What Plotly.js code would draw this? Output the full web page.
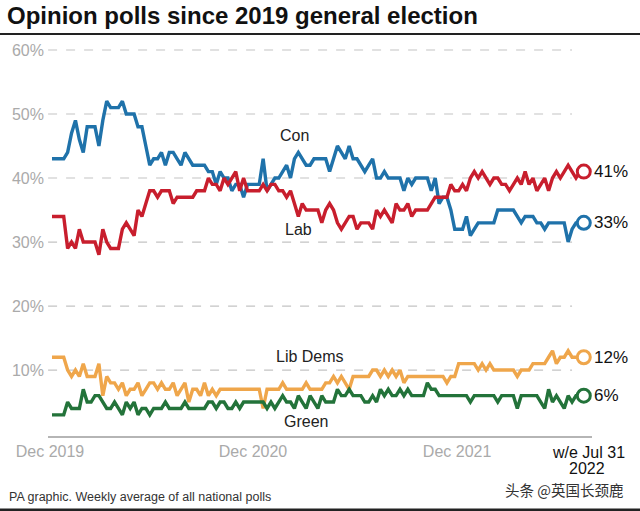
<!DOCTYPE html>
<html><head><meta charset="utf-8">
<script src="https://cdn.plot.ly/plotly-3.0.1.min.js"></script>
<style>html,body{margin:0;padding:0;background:#fff;}#chart{width:640px;height:511px;}</style>
</head><body><div id="chart"></div>
<script>
// Weekly poll averages, week 0 = mid Dec 2019, week 136 = w/e Jul 31 2022
const con = [43,43,43,43,44,47,49,46,44,48,48,48,45,49,52,51,51,51,52,50,50,50,48,48,45,42,43,43,44,42,44,44,43,42,44,43,42,42,42,42,41,41,39,41,40,40,38,39,39,37,39,39,39,39,43,38,39,40,40,41,42,40,43,44,43,42,42,43,43,43,43,41,43,45,44,43,45,43,43,42,41,42,43,40,40,41,40,40,40,40,38,40,39,40,40,40,40,38,40,36,37,37,35,32,32,32,34,31,32,33,33,33,33,33,35,35,35,35,35,34,33,34,34,34,33,33,32,33,33,33,33,33,30,32,33,33,33];
const lab = [34,34,34,34,29,30,29,32,30,30,30,30,28,32,30,29,29,29,32,33,32,31,35,34,36,38,38,37,38,38,38,36,37,37,37,37,37,38,38,38,40,39,39,38,40,39,40,41,38,40,38,38,38,38,39,38,39,39,38,38,37,38,36,34,36,35,35,35,35,33,35,36,35,33,32,33,34,34,32,33,33,33,32,35,34,35,34,33,36,35,35,36,34,35,35,35,35,36,37,37,37,37,39,38,38,39,38,40,41,40,41,40,39,40,40,39,39,38,39,40,39,41,39,40,38,39,40,38,40,41,40,41,42,41,40,41,41];
const libDems = [12,12,12,12,10,9,10,9,11,9,9,9,11,6,9,8,8,7,8,6,7,7,8,6,7,8,8,7,8,7,7,8,6,7,8,5,7,7,6,8,6,7,6,7,7,7,7,7,7,7,7,7,7,7,4,7,7,7,7,8,7,7,7,7,7,8,7,7,7,7,8,8,9,8,9,8,7,9,9,9,9,9,10,10,9,10,9,10,9,10,8,9,9,9,9,9,9,9,9,9,9,8,9,9,11,11,11,11,11,10,11,10,11,10,10,10,10,10,10,9,10,10,10,11,11,11,11,12,13,11,12,12,13,12,12,12,12];
const green = [3,3,3,3,5,4,4,4,7,5,5,6,6,5,4,4,5,4,3,5,4,5,3,4,4,3,4,4,4,5,4,4,4,4,5,4,4,4,4,4,5,5,4,5,5,4,4,5,4,5,5,5,5,5,5,4,5,4,5,6,5,5,4,6,5,4,6,5,4,6,5,5,5,7,6,6,7,6,6,6,5,5,6,5,7,6,7,6,6,7,6,7,6,6,6,6,8,7,7,6,6,6,6,6,6,6,6,5,6,6,6,6,6,6,5,6,6,6,6,4,6,6,6,6,6,5,4,7,5,6,5,4,6,5,6,6,6];
const seriesNames = ['Con','Lab','Lib Dems','Green'];
const seriesColors = ['#1f72aa','#c81e2d','#efa64b','#23733a'];
const endLabels = ['33%','41%','12%','6%'];
const yTicks = [10,20,30,40,50,60];
const yTickText = ['10%','20%','30%','40%','50%','60%'];
const xTickVals = [-0.5,51.4,103.6];
const xTickText = ['Dec 2019','Dec 2020','Dec 2021'];
const lastTickLines = ['w/e Jul 31','2022'];
const weeks = con.map((_, i) => i);

const FONT = 'Liberation Sans, Arial, sans-serif';
const allSeries = [con, lab, libDems, green];
const traces = [];
allSeries.forEach((vals, k) => {
  traces.push({x: weeks, y: vals, type: 'scatter', mode: 'lines', name: seriesNames[k],
    line: {color: seriesColors[k], width: 3.4, shape: 'linear'}, hoverinfo: 'skip'});
});
allSeries.forEach((vals, k) => {
  const n = vals.length - 1;
  traces.push({x: [weeks[n]], y: [vals[n]], type: 'scatter', mode: 'markers',
    marker: {size: 13, color: '#fff', line: {color: seriesColors[k], width: 3}}, hoverinfo: 'skip'});
});

const last = weeks.length - 1;
// paper coords: plot area spans x 48..592 px, y 40..436 px
const px = p => (p - 48) / 544;
const py = p => (436 - p) / 396;
const shapes = yTicks.map(v => ({type: 'line', xref: 'x', yref: 'y', x0: -1, x1: 133, y0: v, y1: v,
  line: {color: '#c4c4c4', width: 1.2, dash: 'dash'}, layer: 'below'}));
shapes.push({type: 'line', xref: 'paper', yref: 'paper', x0: px(0), x1: px(640), y0: py(34), y1: py(34),
  line: {color: '#222', width: 2}});
shapes.push({type: 'rect', xref: 'paper', yref: 'paper', x0: px(0), x1: px(640), y0: py(508.5), y1: py(511),
  fillcolor: '#222', line: {width: 0}});

const ann = [];
const inlineLabels = [
  {t: 'Con', x: 62, y: 46.7}, {t: 'Lab', x: 63, y: 31.9},
  {t: 'Lib Dems', x: 66, y: 12.1}, {t: 'Green', x: 65, y: 2.0}
];
inlineLabels.forEach(l => ann.push({x: l.x, y: l.y, xref: 'x', yref: 'y', text: l.t, showarrow: false,
  font: {family: FONT, size: 16, color: '#222'}}));
allSeries.forEach((vals, k) => ann.push({x: weeks[last], y: vals[last], xref: 'x', yref: 'y', text: endLabels[k],
  showarrow: false, xanchor: 'left', xshift: 8,
  font: {family: FONT, size: 17, color: '#111'}}));
ann.push({x: px(588), y: py(452), xref: 'paper', yref: 'paper', xanchor: 'center', yanchor: 'middle', text: lastTickLines[0],
  showarrow: false, font: {family: FONT, size: 16, color: '#111'}});
ann.push({x: px(587), y: py(469), xref: 'paper', yref: 'paper', xanchor: 'center', yanchor: 'middle', text: lastTickLines[1],
  showarrow: false, font: {family: FONT, size: 16, color: '#111'}});
ann.push({x: px(7), y: py(497), xref: 'paper', yref: 'paper', xanchor: 'left', yanchor: 'middle',
  text: 'PA graphic. Weekly average of all national polls', showarrow: false,
  font: {family: FONT, size: 12.5, color: '#333'}});
ann.push({x: px(625), y: py(489), xref: 'paper', yref: 'paper', xanchor: 'right', yanchor: 'middle',
  text: '头条 @英国长颈鹿', showarrow: false,
  font: {family: 'Noto Sans CJK SC, sans-serif', size: 14.5, color: '#333'}});

const layout = {
  width: 640, height: 511,
  margin: {l: 48, r: 48, t: 40, b: 75},
  paper_bgcolor: '#fff', plot_bgcolor: '#fff',
  showlegend: false,
  title: {text: '<b>Opinion polls since 2019 general election</b>', xref: 'container', yref: 'container',
    x: 7 / 640, xanchor: 'left', y: 1 - 16 / 511, yanchor: 'middle',
    font: {family: FONT, size: 24, color: '#111'}},
  xaxis: {range: [-1.02, 138.1], showgrid: false, zeroline: false, showline: true, linecolor: '#b5b5b5', linewidth: 2,
    tickvals: xTickVals, ticktext: xTickText, ticks: '', tickfont: {family: FONT, size: 16, color: '#aaa'}},
  yaxis: {range: [-0.3, 61.56], showgrid: false, zeroline: false, showline: false, ticklabelstandoff: 3,
    tickvals: yTicks, ticktext: yTickText, ticks: '', tickfont: {family: FONT, size: 16, color: '#aaa'}},
  shapes: shapes, annotations: ann
};
Plotly.newPlot('chart', traces, layout, {staticPlot: true, displayModeBar: false});
</script></body></html>
